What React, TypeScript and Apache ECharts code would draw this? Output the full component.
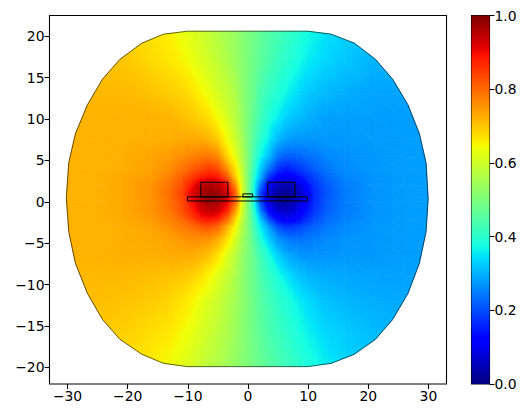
import React, { useEffect, useRef } from "react";
import * as echarts from "echarts";

const xTicks = [-30, -20, -10, 0, 10, 20, 30];
const yTicks = [-20, -15, -10, -5, 0, 5, 10, 15, 20];
const colorbarTicks = [0, 0.2, 0.4, 0.6, 0.8, 1];

const meshX = [-31, -26, -21, -16, -13, -11, -9.5, -8, -6.5, -5, -3.5, -2, -1, 0, 1, 2, 3.5, 5, 6.5, 8, 9.5, 11, 13, 16, 21, 26, 31];
const meshY = [21, 17, 13, 10, 7.5, 5.5, 4, 3, 2, 1, 0, -1, -2, -3, -4.5, -6.5, -9, -12, -16, -20.5];
const field = [
  [.695,.695,.685,.667,.654,.632,.62,.602,.584,.566,.548,.53,.512,.5,.488,.47,.452,.434,.416,.398,.38,.368,.346,.333,.315,.305,.305],
  [.705,.705,.70,.68,.665,.652,.638,.62,.602,.584,.56,.536,.518,.5,.482,.464,.44,.416,.398,.38,.362,.348,.335,.32,.30,.295,.295],
  [.715,.715,.715,.705,.695,.685,.675,.655,.635,.61,.59,.56,.525,.5,.475,.44,.41,.39,.365,.345,.325,.315,.305,.295,.285,.285,.285],
  [.72,.72,.72,.72,.72,.71,.70,.69,.675,.645,.615,.57,.535,.5,.465,.43,.385,.355,.325,.31,.30,.29,.28,.28,.28,.28,.28],
  [.72,.72,.722,.725,.725,.73,.73,.73,.72,.695,.645,.595,.55,.5,.45,.405,.355,.305,.28,.27,.27,.27,.275,.275,.278,.28,.28],
  [.72,.72,.725,.735,.745,.76,.77,.78,.785,.765,.69,.625,.565,.505,.435,.375,.31,.235,.215,.22,.23,.24,.255,.265,.275,.28,.28],
  [.72,.72,.725,.74,.76,.785,.81,.83,.85,.83,.76,.665,.585,.505,.415,.335,.24,.17,.15,.17,.19,.215,.24,.26,.275,.28,.28],
  [.72,.72,.73,.745,.775,.81,.84,.875,.895,.885,.82,.69,.60,.505,.40,.31,.18,.115,.105,.125,.16,.19,.225,.255,.27,.28,.28],
  [.72,.72,.73,.755,.79,.83,.885,.94,.96,.95,.90,.75,.615,.505,.385,.25,.10,.05,.04,.06,.115,.17,.21,.245,.27,.28,.28],
  [.72,.72,.73,.755,.795,.84,.91,.955,.985,.975,.93,.80,.63,.505,.37,.20,.07,.025,.015,.045,.09,.16,.205,.245,.27,.28,.28],
  [.72,.72,.73,.755,.79,.835,.89,.945,.975,.965,.92,.79,.625,.505,.375,.21,.08,.035,.025,.055,.11,.165,.21,.245,.27,.28,.28],
  [.72,.72,.73,.755,.785,.825,.87,.92,.945,.935,.88,.74,.605,.505,.395,.26,.12,.065,.055,.08,.13,.175,.215,.245,.27,.28,.28],
  [.72,.72,.73,.75,.775,.805,.84,.885,.90,.885,.81,.68,.585,.505,.415,.32,.19,.115,.10,.115,.16,.195,.225,.25,.27,.28,.28],
  [.72,.72,.725,.74,.76,.78,.795,.815,.825,.80,.725,.64,.57,.505,.43,.36,.275,.20,.175,.185,.205,.22,.24,.26,.275,.28,.28],
  [.72,.72,.725,.73,.74,.75,.76,.76,.755,.73,.675,.605,.55,.505,.45,.395,.325,.27,.245,.24,.24,.25,.26,.27,.275,.28,.28],
  [.72,.72,.725,.725,.73,.73,.73,.72,.705,.67,.62,.57,.53,.5,.47,.43,.38,.33,.295,.28,.27,.27,.27,.275,.275,.28,.28],
  [.715,.715,.715,.71,.705,.70,.69,.675,.65,.62,.59,.555,.525,.5,.475,.445,.41,.38,.35,.325,.31,.30,.295,.29,.285,.285,.285],
  [.712,.71,.705,.695,.685,.67,.655,.635,.615,.595,.57,.545,.522,.5,.478,.455,.43,.405,.385,.365,.345,.33,.315,.305,.295,.29,.288],
  [.704,.70,.69,.675,.662,.645,.632,.614,.596,.578,.56,.536,.518,.5,.482,.464,.44,.422,.404,.386,.368,.355,.338,.325,.31,.30,.296],
  [.695,.695,.683,.658,.638,.62,.608,.59,.572,.56,.542,.524,.512,.5,.488,.476,.458,.44,.428,.41,.392,.38,.362,.342,.317,.305,.305],
];

const outline: number[][] = [
  [-10.07,20.6],[9.97,20.6],[13.85,20.24],[17.7,19.15],[21.2,17.2],[24.05,14.8],[26.6,11.7],[28.5,8.2],[29.6,4.7],[29.95,0.4],
  [29.6,-3.6],[28.5,-7.4],[26.6,-11.05],[24.05,-14.2],[21.2,-16.6],[17.7,-18.4],[13.85,-19.5],[9.97,-19.9],[-10.07,-19.9],
  [-14.07,-19.5],[-17.67,-18.4],[-21.3,-16.6],[-24.2,-14.2],[-26.7,-11.05],[-28.7,-7.4],[-29.8,-3.6],[-30.2,0.5],
  [-29.8,4.7],[-28.7,8.2],[-26.7,11.7],[-24.2,14.8],[-21.3,17.2],[-17.67,19.15],[-14.07,20.24],[-10.07,20.6],
];

// x0, y0, x1, y1 of the device outlines
const deviceRects = [
  [-10.07, 0.1, 9.9, 0.6],
  [-7.85, 0.6, -3.35, 2.36],
  [3.3, 0.6, 7.8, 2.36],
  [-0.85, 0.6, 0.75, 0.96],
];

const JET_R = [[0, 0], [0.35, 0], [0.66, 1], [0.89, 1], [1, 0.5]];
const JET_G = [[0, 0], [0.125, 0], [0.375, 1], [0.64, 1], [0.91, 0], [1, 0]];
const JET_B = [[0, 0.5], [0.11, 1], [0.34, 1], [0.65, 0], [1, 0]];
const JET_KNOTS = [0, 0.11, 0.125, 0.34, 0.35, 0.375, 0.64, 0.65, 0.66, 0.89, 0.91, 1];

function channel(knots: number[][], v: number) {
  for (let i = 1; i < knots.length; i++) {
    if (v <= knots[i][0]) {
      const [a, av] = knots[i - 1];
      const [b, bv] = knots[i];
      return av + ((bv - av) * (v - a)) / (b - a);
    }
  }
  return knots[knots.length - 1][1];
}
function jet(v: number) {
  const c = Math.max(0, Math.min(1, v));
  const f = (k: number[][]) => Math.round(channel(k, c) * 255);
  return `rgb(${f(JET_R)},${f(JET_G)},${f(JET_B)})`;
}

// Keep the part of a triangle inside the convex domain outline.
function clipToOutline(poly: number[][]) {
  let out = poly;
  for (let i = 0; i < outline.length - 1 && out.length; i++) {
    const [ax, ay] = outline[i];
    const [bx, by] = outline[i + 1];
    const side = (p: number[]) => (bx - ax) * (p[1] - ay) - (by - ay) * (p[0] - ax);
    const next: number[][] = [];
    for (let j = 0; j < out.length; j++) {
      const p = out[j];
      const q = out[(j + 1) % out.length];
      const sp = side(p);
      const sq = side(q);
      if (sp <= 0) next.push(p);
      if (sp < 0 !== sq < 0 && sp !== sq) {
        const t = sp / (sp - sq);
        next.push([p[0] + (q[0] - p[0]) * t, p[1] + (q[1] - p[1]) * t]);
      }
    }
    out = next;
  }
  return out;
}

function buildTriangles() {
  const tris: number[][] = [];
  for (let r = 0; r < meshY.length - 1; r++) {
    for (let c = 0; c < meshX.length - 1; c++) {
      const n = (i: number, j: number) => [meshX[j], meshY[i], field[i][j]];
      const a = n(r, c), b = n(r, c + 1), d = n(r + 1, c), e = n(r + 1, c + 1);
      tris.push([...a, ...b, ...e]);
      tris.push([...a, ...e, ...d]);
    }
  }
  return tris;
}

function renderTriangle(_: any, api: any) {
  const pts = [0, 3, 6].map((o) => [api.value(o), api.value(o + 1), api.value(o + 2)]);
  const clipped = clipToOutline(pts.map((p) => [p[0], p[1]]));
  if (clipped.length < 3) return null;
  const px = pts.map((p) => api.coord([p[0], p[1]]));
  const vs = pts.map((p) => p[2]);
  const det = (px[1][0] - px[0][0]) * (px[2][1] - px[0][1]) - (px[2][0] - px[0][0]) * (px[1][1] - px[0][1]);
  const gx = ((vs[1] - vs[0]) * (px[2][1] - px[0][1]) - (vs[2] - vs[0]) * (px[1][1] - px[0][1])) / det;
  const gy = ((vs[2] - vs[0]) * (px[1][0] - px[0][0]) - (vs[1] - vs[0]) * (px[2][0] - px[0][0])) / det;
  const vMin = Math.min(...vs), vMax = Math.max(...vs);
  let paint: any;
  const g2 = gx * gx + gy * gy;
  if (vMax - vMin < 1e-6 || g2 < 1e-12) {
    paint = jet(vs[0]);
  } else {
    const s = px[vs.indexOf(vMin)];
    const k = (vMax - vMin) / g2;
    const stops = [vMin, ...JET_KNOTS.filter((t) => t > vMin && t < vMax), vMax].map((t) => ({
      offset: (t - vMin) / (vMax - vMin),
      color: jet(t),
    }));
    paint = new echarts.graphic.LinearGradient(s[0], s[1], s[0] + gx * k, s[1] + gy * k, stops, true);
  }
  return {
    type: "polygon",
    shape: { points: clipped.map((p) => api.coord(p)) },
    style: { fill: paint, stroke: paint, lineWidth: 0.8 },
  };
}

function renderDeviceRect(_: any, api: any) {
  const a = api.coord([api.value(0), api.value(1)]);
  const b = api.coord([api.value(2), api.value(3)]);
  return {
    type: "rect",
    shape: { x: a[0], y: b[1], width: b[0] - a[0], height: a[1] - b[1] },
    style: { fill: "none", stroke: "#000", lineWidth: 1 },
  };
}

function renderColorbar(_: any, api: any) {
  const a = api.coord([0, api.value(0)]);
  const b = api.coord([1, api.value(1)]);
  return {
    type: "rect",
    shape: { x: a[0], y: b[1], width: b[0] - a[0], height: a[1] - b[1] },
    style: {
      fill: new echarts.graphic.LinearGradient(0, 1, 0, 0, JET_KNOTS.map((t) => ({ offset: t, color: jet(t) }))),
    },
  };
}

const FONT = "DejaVu Sans";
const minus = (v: number) => String(v).replace("-", "\u2212");
const tickStyle = { show: true, length: 5, lineStyle: { color: "#000", width: 1.1 } };
const labelStyle = { color: "#000", fontFamily: FONT, fontSize: 13.9, margin: 5 };
const hiddenLine = { show: false, onZero: false };

export default function App() {
  const ref = useRef<HTMLDivElement>(null);
  useEffect(() => {
    const chart = echarts.init(ref.current!, null, { renderer: "svg" });
    chart.setOption({
      animation: false,
      grid: [
        { left: 49.5, top: 15.5, width: 397, height: 368.5, show: true, borderColor: "#000", borderWidth: 1.1, backgroundColor: "transparent" },
        { left: 471.5, top: 15.5, width: 18, height: 368.5, show: true, borderColor: "#000", borderWidth: 1.1, backgroundColor: "transparent" },
      ],
      xAxis: [
        {
          gridIndex: 0, type: "value", min: -33, max: 33, splitLine: { show: false },
          axisLine: hiddenLine,
          axisTick: { ...tickStyle, customValues: xTicks },
          axisLabel: { ...labelStyle, customValues: xTicks, formatter: minus },
        },
        { gridIndex: 1, type: "value", min: 0, max: 1, show: false },
      ],
      yAxis: [
        {
          gridIndex: 0, type: "value", min: -22, max: 22.5, splitLine: { show: false },
          axisLine: hiddenLine,
          axisTick: { ...tickStyle, customValues: yTicks },
          axisLabel: { ...labelStyle, customValues: yTicks, formatter: minus },
        },
        {
          gridIndex: 1, type: "value", min: 0, max: 1, position: "right", splitLine: { show: false },
          axisLine: hiddenLine,
          axisTick: { ...tickStyle, customValues: colorbarTicks },
          axisLabel: { ...labelStyle, customValues: colorbarTicks, formatter: (v: number) => v.toFixed(1) },
        },
      ],
      series: [
        { type: "custom", coordinateSystem: "cartesian2d", xAxisIndex: 0, yAxisIndex: 0, silent: true, clip: false, data: buildTriangles(), renderItem: renderTriangle, z: 2 },
        { type: "line", xAxisIndex: 0, yAxisIndex: 0, silent: true, showSymbol: false, data: outline, lineStyle: { color: "#000", width: 0.6 }, z: 3 },
        { type: "custom", coordinateSystem: "cartesian2d", xAxisIndex: 0, yAxisIndex: 0, silent: true, data: deviceRects, renderItem: renderDeviceRect, z: 4 },
        { type: "custom", coordinateSystem: "cartesian2d", xAxisIndex: 1, yAxisIndex: 1, silent: true, data: [[0, 1]], renderItem: renderColorbar, z: 2 },
      ],
    });
    return () => chart.dispose();
  }, []);
  return <div ref={ref} style={{ position: "absolute", left: 0, top: 0, width: 530, height: 418 }} />;
}
